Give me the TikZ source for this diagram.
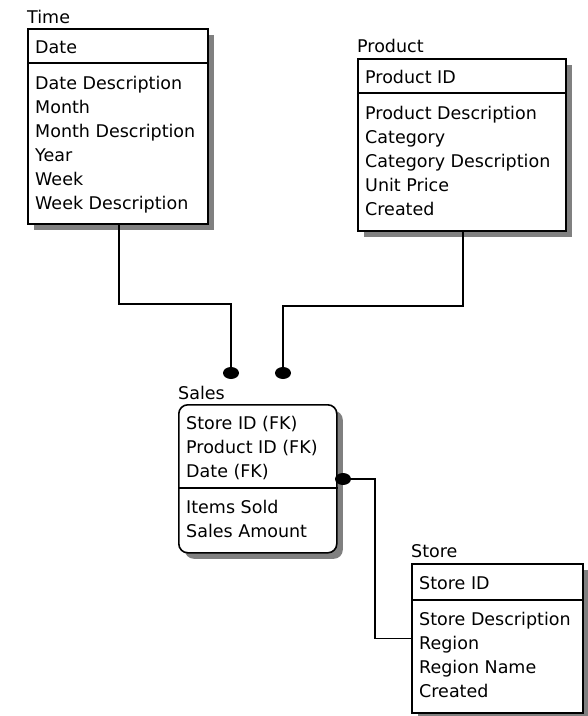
\documentclass[tikz,border=0pt]{standalone}
\usepackage{fontspec}
\setmainfont{DejaVu Sans}
\usetikzlibrary{shapes.geometric,shadows}
\begin{document}
\begin{tikzpicture}[x=1pt,y=-1pt,
  ent/.style={draw,line width=1.6pt,fill=white,rectangle,inner sep=0pt,anchor=north west,
    drop shadow={shadow xshift=6pt,shadow yshift=-6pt,fill=black!50,opacity=1}},
  txt/.style={anchor=base west,inner sep=0pt,font=\fontsize{17.5}{21}\selectfont},
  conn/.style={line width=1.6pt},
  dotn/.style={ellipse,fill=black,draw=none,inner sep=0pt,minimum width=16pt,minimum height=12pt}]
\useasboundingbox (0,0) rectangle (588,716);

% ---- Time
\node[ent,minimum width=180pt,minimum height=195pt] (time) at (27,28) {};
\draw[line width=1.6pt] ([yshift=-35pt]time.north west) -- ([yshift=-35pt]time.north east);
\node[txt] (timeL) at (27,23) {Time};
\node[txt] (timeK) at (35,53) {Date};
\foreach \t [count=\i] in {Date Description,Month,Month Description,Year,Week,Week Description}
  \node[txt] (timeA\i) at (35,{89+24*(\i-1)}) {\t};

% ---- Product
\node[ent,minimum width=208pt,minimum height=172pt] (product) at (357,58) {};
\draw[line width=1.6pt] ([yshift=-35pt]product.north west) -- ([yshift=-35pt]product.north east);
\node[txt] (productL) at (357,52) {Product};
\node[txt] (productK) at (365,83) {Product ID};
\foreach \t [count=\i] in {Product Description,Category,Category Description,Unit Price,Created}
  \node[txt] (productA\i) at (365,{119+24*(\i-1)}) {\t};

% ---- Sales
\node[ent,rounded corners=9pt,minimum width=158pt,minimum height=148pt] (sales) at (178,404) {};
\draw[line width=1.6pt] ([yshift=-84pt]sales.north west) -- ([yshift=-84pt]sales.north east);
\node[txt] (salesL) at (178,399) {Sales};
\foreach \t [count=\i] in {Store ID (FK),Product ID (FK),Date (FK)}
  \node[txt] (salesK\i) at (186,{429+24*(\i-1)}) {\t};
\foreach \t [count=\i] in {Items Sold,Sales Amount}
  \node[txt] (salesA\i) at (186,{513+24*(\i-1)}) {\t};

% ---- Store
\node[ent,minimum width=171pt,minimum height=149pt] (store) at (411,563) {};
\draw[line width=1.6pt] ([yshift=-37pt]store.north west) -- ([yshift=-37pt]store.north east);
\node[txt] (storeL) at (411,557) {Store};
\node[txt] (storeK) at (419,589) {Store ID};
\foreach \t [count=\i] in {Store Description,Region,Region Name,Created}
  \node[txt] (storeA\i) at (419,{625+24*(\i-1)}) {\t};

% ---- connector dots
\node[dotn] (dT) at (231,373) {};
\node[dotn] (dP) at (283,373) {};
\node[dotn] (dS) at (343,479) {};

% ---- connectors
\coordinate (tX) at (119,0);
\coordinate (pX) at (463,0);
\coordinate (sX) at (375,0);
\draw[conn] (tX |- time.south) -- (119,304) -| (dT.north);
\draw[conn] (pX |- product.south) -- (463,306) -| (dP.north);
\draw[conn] (dS.east) -| (sX |- store.west) -- (store.west);
\end{tikzpicture}
\end{document}
